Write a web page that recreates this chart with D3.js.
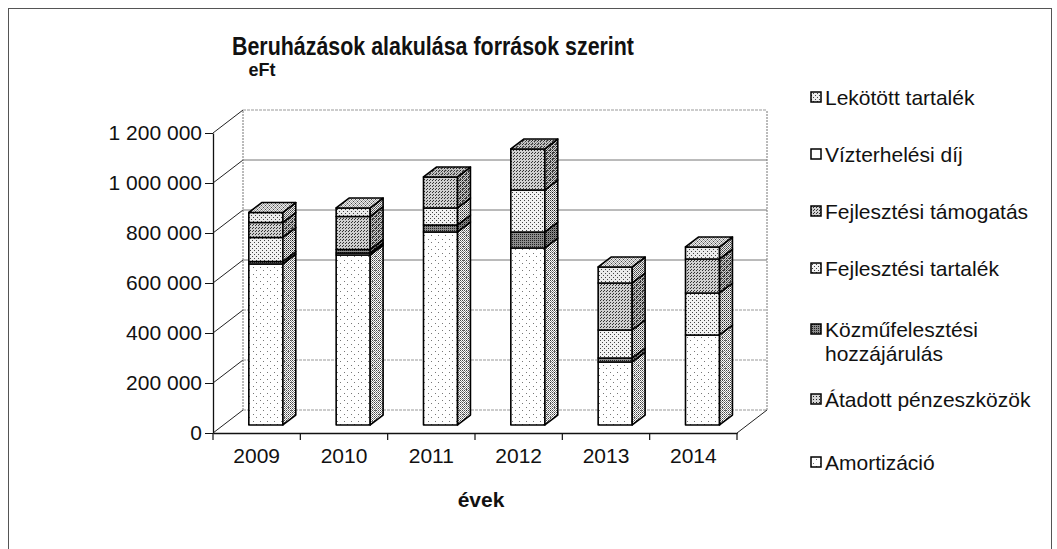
<!DOCTYPE html>
<html>
<head>
<meta charset="utf-8">
<script src="https://cdn.jsdelivr.net/npm/d3@7"></script>
<style>
  body { margin: 0; background: #fff; }
  svg { display: block; }
  text { font-family: "Liberation Sans", Arial, sans-serif; fill: #111; }
</style>
</head>
<body>
<script>
// data (eFt)
const years = ["2009", "2010", "2011", "2012", "2013", "2014"];
const seriesNames = ["Amortizáció", "Átadott pénzeszközök", "Közműfelesztési hozzájárulás",
                     "Fejlesztési tartalék", "Fejlesztési támogatás", "Vízterhelési díj", "Lekötött tartalék"];
const amortizacio   = [644000, 680000, 772000, 708000, 252000, 360000];
const atadott       = [0, 8000, 0, 0, 0, 0];
const kozmu         = [10000, 14000, 28000, 64000, 16000, 0];
const fejlTartalek  = [96000, 0, 68000, 168000, 112000, 168000];
const fejlTamogatas = [60000, 132000, 124000, 164000, 188000, 136000];
const vizterhelesi  = [0, 0, 0, 0, 0, 0];
const lekotott      = [40000, 34000, 0, 0, 64000, 48000];
const yTicks = [0, 200000, 400000, 600000, 800000, 1000000, 1200000];

const seriesValues = [amortizacio, atadott, kozmu, fejlTartalek, fejlTamogatas, vizterhelesi, lekotott];
const table = years.map((yr, i) => {
  const row = { year: yr };
  seriesNames.forEach((s, j) => row[s] = seriesValues[j][i]);
  return row;
});

const W = 1057, H = 549;
const svg = d3.select("body").append("svg").attr("width", W).attr("height", H);
const defs = svg.append("defs");

// grey dotted textures, like the scanned print
const looks = [
  { bg: "#ffffff", dot: "#777", size: 7, dots: [[1, 1], [4, 4]] },
  { bg: "#d4d4d4", dot: "#222", size: 3, dots: [[0, 0]] },
  { bg: "#8c8c8c", dot: "#222", size: 2, dots: [[0, 0]] },
  { bg: "#f2f2f2", dot: "#444", size: 4, dots: [[0, 0], [2, 2]] },
  { bg: "#d0d0d0", dot: "#333", size: 3, dots: [[0, 0], [1, 2]] },
  { bg: "#ffffff", dot: "#fff", size: 4, dots: [] },
  { bg: "#ebebeb", dot: "#444", size: 4, dots: [[1, 1], [3, 3]] }
];
looks.forEach((l, i) => {
  const p = defs.append("pattern").attr("id", "pat" + i)
    .attr("patternUnits", "userSpaceOnUse").attr("width", l.size).attr("height", l.size);
  p.append("rect").attr("width", l.size).attr("height", l.size).attr("fill", l.bg);
  l.dots.forEach(d => p.append("rect").attr("x", d[0]).attr("y", d[1])
    .attr("width", 1).attr("height", 1).attr("fill", l.dot));
});
const shade = defs.append("pattern").attr("id", "shade")
  .attr("patternUnits", "userSpaceOnUse").attr("width", 2).attr("height", 2);
shade.append("rect").attr("width", 1).attr("height", 1).attr("fill", "#000");
shade.append("rect").attr("x", 1).attr("y", 1).attr("width", 1).attr("height", 1).attr("fill", "#555");

// frame
svg.append("rect").attr("x", 8.5).attr("y", 8.5).attr("width", 1043).attr("height", 600)
  .attr("fill", "none").attr("stroke", "#555").attr("stroke-width", 1);

// scales + pseudo 3d projection
const x = d3.scaleBand().domain(years).range([213, 737]);
const y = d3.scaleLinear().domain([0, 1200000]).range([433, 133]);
const DX = 30, DY = -23;
const p = (xf, v, f) => [xf + f * DX, y(v) + f * DY];
const line = pts => "M" + pts.map(q => q.join(",")).join("L");
const xMin = x.range()[0], xMax = x.range()[1];

const walls = svg.append("g");
yTicks.forEach(t => {
  const light = t <= 400000 || t === 1200000;
  walls.append("path").attr("d", line([p(xMin, t, 1), p(xMax, t, 1)]))
    .attr("stroke", light ? "#999" : "#777").attr("stroke-width", 1)
    .attr("stroke-dasharray", light ? "3,1" : null).attr("fill", "none");
  walls.append("path").attr("d", line([p(xMin, t, 0), p(xMin, t, 1)]))
    .attr("stroke", "#222").attr("stroke-width", 1).attr("fill", "none");
});
[xMin, xMax].forEach(xx => walls.append("path")
  .attr("d", line([p(xx, 0, 1), p(xx, 1200000, 1)]))
  .attr("stroke", "#777").attr("stroke-width", 1).attr("stroke-dasharray", "2,1"));
walls.append("path").attr("d", line([p(xMax, 0, 0), p(xMax, 0, 1)]))
  .attr("stroke", "#222").attr("stroke-width", 1).attr("fill", "none");

// axes
const yAxis = d3.axisLeft(y).tickValues(yTicks).tickSize(8).tickSizeOuter(0)
  .tickFormat(d => d3.format(",")(d).replace(/,/g, " "));
svg.append("g").attr("transform", `translate(${xMin},0)`).call(yAxis)
  .call(g => g.select(".domain").attr("stroke", "#111").attr("stroke-width", 1.3))
  .call(g => g.selectAll(".tick line").attr("stroke", "#111"))
  .call(g => g.selectAll("text").attr("font-size", 21).attr("x", -11).attr("fill", "#111"));

const xAxis = d3.axisBottom(x).tickSize(0).tickSizeOuter(0);
svg.append("g").attr("transform", `translate(0,${y(0)})`).call(xAxis)
  .call(g => g.select(".domain").attr("stroke", "#111").attr("stroke-width", 1.3))
  .call(g => g.selectAll("text").attr("font-size", 21).attr("dy", "1.3em").attr("fill", "#111"));
svg.append("g").selectAll("line").data(years.concat(["end"])).enter().append("line")
  .attr("x1", (d, i) => xMin + i * x.bandwidth()).attr("x2", (d, i) => xMin + i * x.bandwidth())
  .attr("y1", y(0)).attr("y2", y(0) + 7).attr("stroke", "#111").attr("stroke-width", 1.2);

// stacked 3d columns
const stack = d3.stack().keys(seriesNames)(table);
const F1 = 0.35, F2 = 0.78;
const bars = svg.append("g");
years.forEach((yr, i) => {
  const x0 = x(yr) + x.bandwidth() * 0.29;
  const x1 = x0 + x.bandwidth() * 0.39;
  let topIdx = -1;
  stack.forEach((layer, j) => { if (layer[i][1] > layer[i][0]) topIdx = j; });
  stack.forEach((layer, j) => {
    const v0 = layer[i][0], v1 = layer[i][1];
    if (v1 <= v0) return;
    const faces = [
      { pts: [p(x0, v0, F1), p(x1, v0, F1), p(x1, v1, F1), p(x0, v1, F1)], dark: 0 },
      { pts: [p(x1, v0, F1), p(x1, v0, F2), p(x1, v1, F2), p(x1, v1, F1)], dark: 0.7 }
    ];
    if (j === topIdx) faces.push({ pts: [p(x0, v1, F1), p(x1, v1, F1), p(x1, v1, F2), p(x0, v1, F2)], dark: 0.35 });
    faces.forEach(fc => {
      const d = line(fc.pts) + "Z";
      bars.append("path").attr("d", d).attr("fill", `url(#pat${j})`);
      if (fc.dark) bars.append("path").attr("d", d).attr("fill", "url(#shade)").attr("opacity", fc.dark);
      bars.append("path").attr("d", d).attr("fill", "none")
        .attr("stroke", "#000").attr("stroke-width", 1.6).attr("stroke-linejoin", "round");
    });
  });
});

// titles
svg.append("text").attr("x", 433).attr("y", 55).attr("text-anchor", "middle")
  .attr("font-size", 25).attr("font-weight", "bold").attr("fill", "#222")
  .attr("textLength", 402).attr("lengthAdjust", "spacingAndGlyphs")
  .text("Beruházások alakulása források szerint");
svg.append("text").attr("x", 262).attr("y", 76).attr("text-anchor", "middle")
  .attr("font-size", 18).attr("font-weight", "bold").text("eFt");
svg.append("text").attr("x", 481).attr("y", 507).attr("text-anchor", "middle")
  .attr("font-size", 21).attr("font-weight", "bold").text("évek");

// legend, top to bottom reverse of stacking
const legendRowY = [97, 154, 211, 268, 329, 399, 462];
const legend = svg.append("g");
seriesNames.slice().reverse().forEach((name, k) => {
  const j = seriesNames.length - 1 - k;
  const cy = legendRowY[k];
  legend.append("rect").attr("x", 811).attr("y", cy - 5).attr("width", 10).attr("height", 10)
    .attr("fill", `url(#pat${j})`).attr("stroke", "#000").attr("stroke-width", 1.5);
  const words = name === "Közműfelesztési hozzájárulás" ? ["Közműfelesztési", "hozzájárulás"] : [name];
  words.forEach((w, n) => legend.append("text").attr("x", 825).attr("y", cy + n * 24)
    .attr("dy", "0.36em").attr("font-size", 21).text(w));
});
</script>
</body>
</html>
